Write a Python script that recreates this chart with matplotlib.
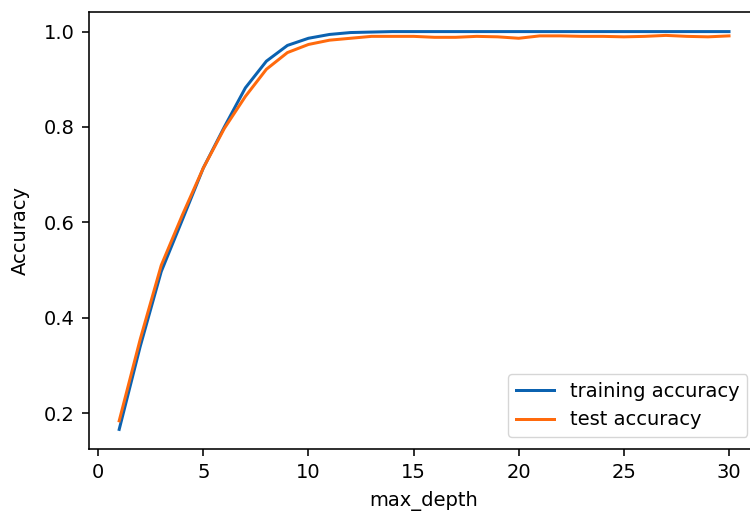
import numpy as np
import matplotlib
matplotlib.use("Agg")
import matplotlib.pyplot as plt

max_depth = list(range(1, 31))
train_acc = [0.166, 0.340, 0.497, 0.605, 0.714, 0.800, 0.882, 0.938, 0.971, 0.986,
             0.994, 0.998, 0.999, 1.000, 1.000, 1.000, 1.000, 1.000, 1.000, 1.000,
             1.000, 1.000, 1.000, 1.000, 1.000, 1.000, 1.000, 1.000, 1.000, 1.000]
test_acc = [0.184, 0.355, 0.510, 0.615, 0.714, 0.797, 0.864, 0.921, 0.956, 0.973,
            0.982, 0.986, 0.990, 0.990, 0.990, 0.988, 0.988, 0.990, 0.989, 0.986,
            0.991, 0.991, 0.990, 0.990, 0.989, 0.990, 0.992, 0.990, 0.989, 0.991]

plt.rcParams['font.size'] = 14

fig = plt.figure(figsize=(7.5, 5.12), dpi=100)
ax = fig.add_axes([88.7 / 750, 1 - 449.3 / 512, (759.5 - 88.7) / 750, (449.3 - 11.7) / 512])

ax.plot(max_depth, train_acc, color='#0b62b0', lw=2.16, label='training accuracy')
ax.plot(max_depth, test_acc, color='#ff6a0d', lw=2.16, label='test accuracy')

# the reference crops this label at the bottom edge; keep it just inside
ax.set_xlabel('max_depth', labelpad=6.5)
ax.set_ylabel('Accuracy', labelpad=10)
ax.set_xticks([0, 5, 10, 15, 20, 25, 30])
ax.set_yticks([0.2, 0.4, 0.6, 0.8, 1.0])
ax.tick_params(length=5, width=1.15, pad=5)
for s in ax.spines.values():
    s.set_linewidth(1.15)
ax.legend(loc='lower right', borderaxespad=0.62)

fig.savefig('out.png', dpi=100)
